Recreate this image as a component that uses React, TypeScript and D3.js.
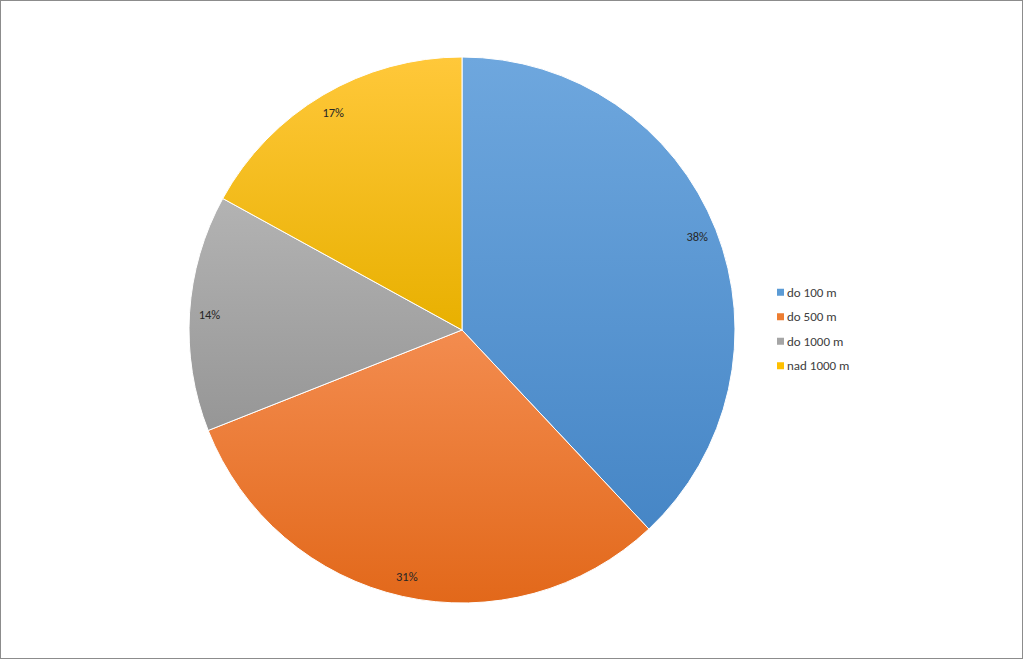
import React from "react";
import * as d3 from "d3";

const categories = ["do 100 m", "do 500 m", "do 1000 m", "nad 1000 m"];
const values = [38, 31, 14, 17];
const labels = ["38%", "31%", "14%", "17%"];
const colorsTop = ["#6EA7DE", "#F38C4F", "#B3B3B3", "#FFC83A"];
const colorsBottom = ["#4686C6", "#E2681A", "#969696", "#E8B000"];
const legendColors = ["#5B9BD5", "#ED7D31", "#A5A5A5", "#FFC000"];

const W = 1024;
const H = 660;
const cx = 462;
const cy = 330;
const R = 273;
const labelR = 253;

export default function App() {
  const pie = d3.pie<number>().sort(null).value((d) => d);
  const arcs = pie(values);
  const arcGen = d3.arc<d3.PieArcDatum<number>>().innerRadius(0).outerRadius(R);
  const labelArc = d3.arc<d3.PieArcDatum<number>>().innerRadius(labelR).outerRadius(labelR);
  const legendY = d3.scaleBand<string>().domain(categories).range([280, 378]);

  return (
    <svg
      width={W}
      height={H}
      style={{ position: "absolute", left: 0, top: 0, background: "#fff" }}
      fontFamily="Carlito, Calibri, 'Liberation Sans', Lato, sans-serif"
    >
      <defs>
        {arcs.map((a, i) => (
          <linearGradient key={i} id={`g${i}`} x1="0" y1="0" x2="0" y2="1">
            <stop offset="0%" stopColor={colorsTop[i]} />
            <stop offset="100%" stopColor={colorsBottom[i]} />
          </linearGradient>
        ))}
      </defs>
      <rect x={0.5} y={0.5} width={W - 2} height={H - 2} fill="#fff" stroke="#8c8c8c" strokeWidth={1} />
      <g transform={`translate(${cx},${cy})`}>
        {arcs.map((a, i) => (
          <path key={i} d={arcGen(a) || ""} fill={`url(#g${i})`} stroke="#fff" strokeWidth={1} />
        ))}
        {arcs.map((a, i) => {
          const [x, y] = labelArc.centroid(a);
          return (
            <text key={i} x={x} y={y} textAnchor="middle" dominantBaseline="central" fontSize={12.5} fill="#262626">
              {labels[i]}
            </text>
          );
        })}
      </g>
      <g>
        {categories.map((c, i) => {
          const y = (legendY(c) || 0) + legendY.bandwidth() / 2;
          return (
            <g key={c}>
              <rect x={777} y={y - 3.5} width={7} height={7} fill={legendColors[i]} />
              <text x={787} y={y} dominantBaseline="central" fontSize={13} fill="#404040">
                {c}
              </text>
            </g>
          );
        })}
      </g>
    </svg>
  );
}
